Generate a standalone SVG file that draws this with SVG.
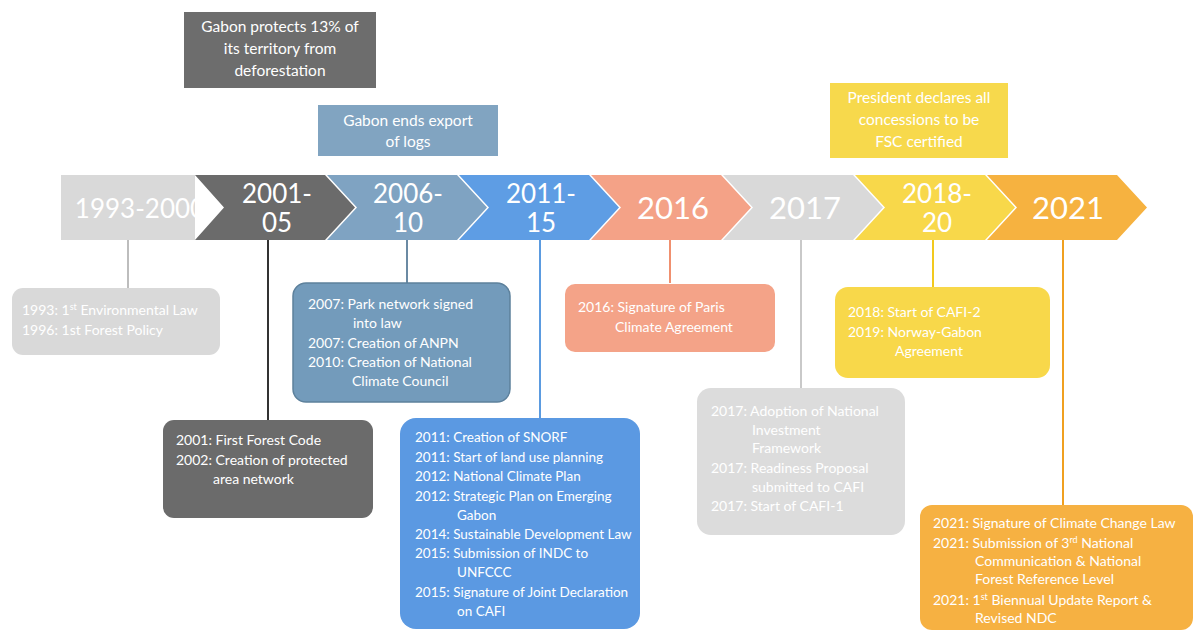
<svg xmlns="http://www.w3.org/2000/svg" width="1193" height="632" viewBox="0 0 1193 632">
<style>
text{font-family:Lato,"Open Sans","Liberation Sans",sans-serif;fill:#ffffff}
.top{font-size:15.5px;text-anchor:middle}
.yr2{font-size:26px;text-anchor:middle}
.yr1{font-size:31px;text-anchor:middle}
.ev{font-size:14px}
.ev2{font-size:13.5px}
.sup{font-size:9px}
.conn line{stroke-width:2}
</style>
<rect width="1193" height="632" fill="#ffffff"/>

<g id="note-2001">
<rect x="184" y="12" width="192" height="76" fill="#6d6d6d"/>
<text class="top" x="280" y="32">Gabon protects 13% of</text>
<text class="top" x="280" y="54">its territory from</text>
<text class="top" x="280" y="76">deforestation</text>
</g>
<g id="note-2006">
<rect x="318" y="105" width="180" height="51" fill="#81a4c1"/>
<text class="top" x="408" y="126">Gabon ends export</text>
<text class="top" x="408" y="147">of logs</text>
</g>
<g id="note-2018">
<rect x="830" y="83" width="178" height="75" fill="#f7d94c"/>
<text class="top" x="919" y="103">President declares all</text>
<text class="top" x="919" y="125">concessions to be</text>
<text class="top" x="919" y="147">FSC certified</text>
</g>

<g class="conn" id="connectors">
<line x1="128" y1="240" x2="128" y2="288" stroke="#bdbdbd"/>
<line x1="268" y1="240" x2="268" y2="420" stroke="#333333"/>
<line x1="407" y1="240" x2="407" y2="283" stroke="#6b8aa3"/>
<line x1="540" y1="240" x2="540" y2="418" stroke="#5b9be0"/>
<line x1="670" y1="240" x2="670" y2="283" stroke="#f0906f"/>
<line x1="801" y1="240" x2="801" y2="388" stroke="#c9c9c9"/>
<line x1="933" y1="240" x2="933" y2="287" stroke="#f2c91e"/>
<line x1="1063" y1="240" x2="1063" y2="505" stroke="#f0a020"/>
</g>

<g id="chev-1993">
<rect x="61" y="175" width="134" height="65" fill="#d9d9d9"/>
<text class="yr2" x="140" y="218" font-size="27">1993-2000</text>
</g>
<g id="chev-2001">
<polygon points="195,175 325,175 355,207.5 325,240 195,240 224,207.5" fill="#6b6b6b"/>
<text class="yr2" x="277" y="203">2001-</text>
<text class="yr2" x="277" y="232">05</text>
</g>
<g id="chev-2006">
<polygon points="327,175 457,175 487,207.5 457,240 327,240 357,207.5" fill="#7fa3c2"/>
<text class="yr2" x="408" y="203">2006-</text>
<text class="yr2" x="408" y="232">10</text>
</g>
<g id="chev-2011">
<polygon points="459,175 589,175 619,207.5 589,240 459,240 489,207.5" fill="#5e9de4"/>
<text class="yr2" x="541" y="203">2011-</text>
<text class="yr2" x="541" y="232">15</text>
</g>
<g id="chev-2016">
<polygon points="591,175 721,175 751,207.5 721,240 591,240 621,207.5" fill="#f4a287"/>
<text class="yr1" x="673" y="219">2016</text>
</g>
<g id="chev-2017">
<polygon points="723,175 853,175 883,207.5 853,240 723,240 753,207.5" fill="#d9d9d9"/>
<text class="yr1" x="805" y="219">2017</text>
</g>
<g id="chev-2018">
<polygon points="855,175 985,175 1015,207.5 985,240 855,240 885,207.5" fill="#f8d84a"/>
<text class="yr2" x="937" y="203">2018-</text>
<text class="yr2" x="937" y="232">20</text>
</g>
<g id="chev-2021">
<polygon points="987,175 1117,175 1147,207.5 1117,240 987,240 1017,207.5" fill="#f6b240"/>
<text class="yr1" x="1068" y="219">2021</text>
</g>

<g id="box-1993">
<rect x="12" y="288" width="208" height="67" rx="11" fill="#d9d9d9"/>
<text class="ev" x="22" y="315">1993: 1<tspan class="sup" dy="-5">st</tspan><tspan dy="5"> Environmental Law</tspan></text>
<text class="ev" x="22" y="335">1996: 1st Forest Policy</text>
</g>
<g id="box-2001">
<rect x="163" y="420" width="210" height="98" rx="11" fill="#6b6b6b"/>
<text class="ev" x="176" y="445">2001: First Forest Code</text>
<text class="ev" x="176" y="465">2002: Creation of protected</text>
<text class="ev" x="213" y="484">area network</text>
</g>
<g id="box-2006">
<rect x="293" y="283" width="217" height="119" rx="13" fill="#739bbb" stroke="#5d819c" stroke-width="1.5"/>
<text class="ev" x="308" y="309">2007: Park network signed</text>
<text class="ev" x="353" y="328">into  law</text>
<text class="ev" x="308" y="348">2007: Creation of ANPN</text>
<text class="ev" x="308" y="367">2010: Creation of National</text>
<text class="ev" x="352" y="386">Climate Council</text>
</g>
<g id="box-2011">
<rect x="400" y="418" width="240" height="211" rx="16" fill="#5b99e2"/>
<text class="ev2" x="415" y="442">2011: Creation of SNORF</text>
<text class="ev2" x="415" y="462">2011: Start of land use planning</text>
<text class="ev2" x="415" y="481">2012: National Climate Plan</text>
<text class="ev2" x="415" y="501">2012: Strategic Plan on Emerging</text>
<text class="ev2" x="457" y="520">Gabon</text>
<text class="ev2" x="415" y="539">2014: Sustainable Development Law</text>
<text class="ev2" x="415" y="558">2015: Submission of INDC to</text>
<text class="ev2" x="457" y="577">UNFCCC</text>
<text class="ev2" x="415" y="597">2015: Signature of Joint Declaration</text>
<text class="ev2" x="457" y="616">on CAFI</text>
</g>
<g id="box-2016">
<rect x="565" y="284" width="210" height="68" rx="10" fill="#f4a388"/>
<text class="ev" x="578" y="312">2016: Signature of Paris</text>
<text class="ev" x="615" y="332">Climate Agreement</text>
</g>
<g id="box-2017">
<rect x="697" y="388" width="208" height="147" rx="14" fill="#dcdcdc"/>
<text class="ev" x="711" y="416">2017: Adoption of National</text>
<text class="ev" x="752" y="435">Investment</text>
<text class="ev" x="752" y="453">Framework</text>
<text class="ev" x="711" y="473">2017: Readiness Proposal</text>
<text class="ev" x="752" y="492">submitted to CAFI</text>
<text class="ev" x="711" y="511">2017: Start of CAFI-1</text>
</g>
<g id="box-2018">
<rect x="835" y="287" width="215" height="91" rx="13" fill="#f8d84a"/>
<text class="ev" x="848" y="317">2018: Start of CAFI-2</text>
<text class="ev" x="848" y="337">2019: Norway-Gabon</text>
<text class="ev" x="895" y="356">Agreement</text>
</g>
<g id="box-2021">
<rect x="920" y="505" width="273" height="125" rx="12" fill="#f6b142"/>
<text class="ev" x="933" y="528">2021: Signature of Climate Change Law</text>
<text class="ev" x="933" y="548">2021: Submission of 3<tspan class="sup" dy="-5">rd</tspan><tspan dy="5"> National</tspan></text>
<text class="ev" x="975" y="566">Communication &amp; National</text>
<text class="ev" x="975" y="584">Forest Reference Level</text>
<text class="ev" x="933" y="605">2021: 1<tspan class="sup" dy="-5">st</tspan><tspan dy="5"> Biennual Update Report &amp;</tspan></text>
<text class="ev" x="975" y="623">Revised NDC</text>
</g>
</svg>
